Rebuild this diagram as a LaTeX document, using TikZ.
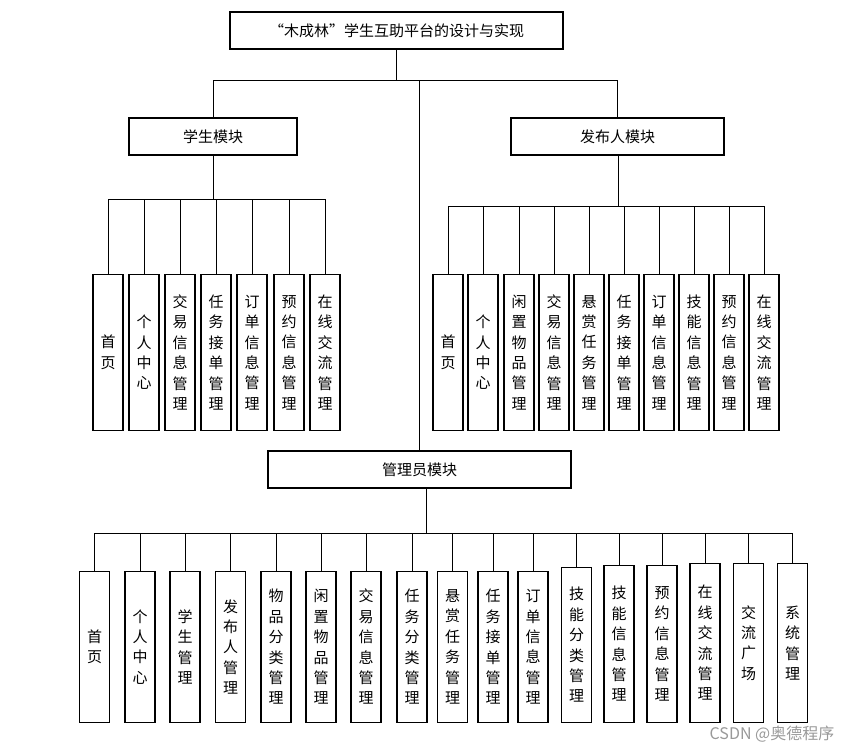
\documentclass[tikz,border=0pt]{standalone}
\usepackage{fontspec}
\newfontfamily\cjk{Noto Sans CJK SC}
\usetikzlibrary{positioning}

\begin{document}
\begin{tikzpicture}[x=1pt, y=-1pt,
		every node/.style={font=\cjk\fontsize{15}{20.4}\selectfont},
		module/.style={draw, line width=1.1pt, minimum height=37pt, inner sep=0pt},
		leaf/.style={draw, line width=1.1pt, minimum width=30pt, minimum height=#1, align=center, inner sep=0pt, anchor=south},
		leaf/.default=156pt,
		link/.style={line width=0.8pt}]
			\useasboundingbox (0,0) rectangle (857,752);

			% top and the three modules
			\node[module, minimum width=333pt] (T) at (396.5,30.5) {“木成林”学生互助平台的设计与实现};
			\node[module, minimum width=168pt] (S) at (213,136.5) {学生模块};
			\node[module, minimum width=213pt] (P) at (617.5,136.5) {发布人模块};
			\node[module, minimum width=303pt] (A) at (419.5,469.5) {管理员模块};

			\coordinate (Tb) at (396.5,80);
			\coordinate (Sb) at (213,199);
			\coordinate (Pb) at (618,206);
			\coordinate (Ab) at (426,533);

			% student leaves
			\node[leaf] (S1) at (108,431) {首\\页};
			\node[leaf] (S2) at (144,431) {个\\人\\中\\心};
			\node[leaf] (S3) at (180,431) {交\\易\\信\\息\\管\\理};
			\node[leaf] (S4) at (216,431) {任\\务\\接\\单\\管\\理};
			\node[leaf] (S5) at (252,431) {订\\单\\信\\息\\管\\理};
			\node[leaf] (S6) at (289,431) {预\\约\\信\\息\\管\\理};
			\node[leaf] (S7) at (325,431) {在\\线\\交\\流\\管\\理};

			% publisher leaves
			\node[leaf] (P1) at (448,431) {首\\页};
			\node[leaf] (P2) at (483,431) {个\\人\\中\\心};
			\node[leaf] (P3) at (519,431) {闲\\置\\物\\品\\管\\理};
			\node[leaf] (P4) at (554,431) {交\\易\\信\\息\\管\\理};
			\node[leaf] (P5) at (589,431) {悬\\赏\\任\\务\\管\\理};
			\node[leaf] (P6) at (624,431) {任\\务\\接\\单\\管\\理};
			\node[leaf] (P7) at (659,431) {订\\单\\信\\息\\管\\理};
			\node[leaf] (P8) at (694,431) {技\\能\\信\\息\\管\\理};
			\node[leaf] (P9) at (729,431) {预\\约\\信\\息\\管\\理};
			\node[leaf] (P10) at (764,431) {在\\线\\交\\流\\管\\理};

			% admin leaves
			\node[leaf=151pt] (A1) at (94.5,723) {首\\页};
			\node[leaf=151pt] (A2) at (140,723) {个\\人\\中\\心};
			\node[leaf=151pt] (A3) at (185,723) {学\\生\\管\\理};
			\node[leaf=151pt] (A4) at (230.5,723) {发\\布\\人\\管\\理};
			\node[leaf=151pt] (A5) at (276,723) {物\\品\\分\\类\\管\\理};
			\node[leaf=151pt] (A6) at (321,723) {闲\\置\\物\\品\\管\\理};
			\node[leaf=151pt] (A7) at (366,723) {交\\易\\信\\息\\管\\理};
			\node[leaf=151pt] (A8) at (412,723) {任\\务\\分\\类\\管\\理};
			\node[leaf=151pt] (A9) at (452.5,723) {悬\\赏\\任\\务\\管\\理};
			\node[leaf=151pt] (A10) at (493,723) {任\\务\\接\\单\\管\\理};
			\node[leaf=151pt] (A11) at (533,723) {订\\单\\信\\息\\管\\理};
			\node[leaf=155pt] (A12) at (576.5,723) {技\\能\\分\\类\\管\\理};
			\node[leaf=157pt] (A13) at (619,723) {技\\能\\信\\息\\管\\理};
			\node[leaf=157pt] (A14) at (662,723) {预\\约\\信\\息\\管\\理};
			\node[leaf=159pt] (A15) at (705,723) {在\\线\\交\\流\\管\\理};
			\node[leaf=159pt] (A16) at (748.5,723) {交\\流\\广\\场};
			\node[leaf=159pt] (A17) at (792.5,723) {系\\统\\管\\理};

			\node[text=black!40, font=\cjk\fontsize{16}{18}\selectfont] (W) at (772,734) {CSDN @奥德程序};

			\draw[link] (T) -- (Tb)
			(Tb) -| (S) (Tb) -| (P) (Tb) -| (A);

			\draw[link] (S.south -| Sb) -- (Sb)
			(Sb) -| (S1) (Sb) -| (S2) (Sb) -| (S3) (Sb) -| (S4)
			(Sb) -| (S5) (Sb) -| (S6) (Sb) -| (S7);

			\draw[link] (P.south -| Pb) -- (Pb)
			(Pb) -| (P1) (Pb) -| (P2) (Pb) -| (P3) (Pb) -| (P4) (Pb) -| (P5)
			(Pb) -| (P6) (Pb) -| (P7) (Pb) -| (P8) (Pb) -| (P9) (Pb) -| (P10);

			\draw[link] (A.south -| Ab) -- (Ab)
			(Ab) -| (A1) (Ab) -| (A2) (Ab) -| (A3) (Ab) -| (A4) (Ab) -| (A5) (Ab) -| (A6)
			(Ab) -| (A7) (Ab) -| (A8) (Ab) -| (A9) (Ab) -| (A10) (Ab) -| (A11) (Ab) -| (A12)
			(Ab) -| (A13) (Ab) -| (A14) (Ab) -| (A15) (Ab) -| (A16) (Ab) -| (A17);
		\end{tikzpicture}
\end{document}
